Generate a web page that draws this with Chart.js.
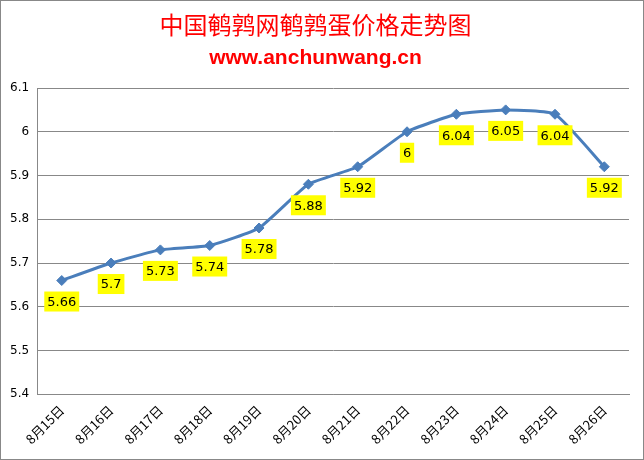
<!DOCTYPE html>
<html>
<head>
<meta charset="utf-8">
<script src="https://cdn.jsdelivr.net/npm/chart.js@4"></script>
<style>
  body { margin: 0; background: #fff; }
</style>
</head>
<body>
<canvas id="priceChart" width="644" height="460"></canvas>
<script>
const days = ["8月15日", "8月16日", "8月17日", "8月18日", "8月19日", "8月20日",
              "8月21日", "8月22日", "8月23日", "8月24日", "8月25日", "8月26日"];
const prices = [5.66, 5.7, 5.73, 5.74, 5.78, 5.88, 5.92, 6, 6.04, 6.05, 6.04, 5.92];
const yMin = 5.4, yMax = 6.1, yStep = 0.1;

// yellow value boxes under each point
const valueBoxes = {
    id: "valueBoxes",
    afterDatasetsDraw(chart) {
        const ctx = chart.ctx;
        const meta = chart.getDatasetMeta(0);
        ctx.save();
        ctx.font = "13px 'DejaVu Sans', sans-serif";
        ctx.textAlign = "center";
        ctx.textBaseline = "middle";
        meta.data.forEach((pt, i) => {
            const text = String(prices[i]);
            const w = ctx.measureText(text).width + 6;
            const h = 20;
            const cx = pt.x, cy = pt.y + 21;
            ctx.fillStyle = "#FFFF00";
            ctx.fillRect(cx - w / 2, cy - h / 2, w, h);
            ctx.fillStyle = "#000";
            ctx.fillText(text, cx, cy + 1);
        });
        ctx.restore();
    }
};

// thin grey frame round the picture
const frame = {
    id: "frame",
    afterDraw(chart) {
        const ctx = chart.ctx;
        ctx.save();
        ctx.strokeStyle = "#888";
        ctx.lineWidth = 1;
        ctx.strokeRect(0.5, 0.5, chart.width - 1, chart.height - 1);
        ctx.restore();
    }
};

new Chart(document.getElementById("priceChart"), {
    type: "line",
    data: {
        labels: days,
        datasets: [{
            data: prices,
            borderColor: "#4A7EBB",
            backgroundColor: "#4A7EBB",
            borderWidth: 3,
            pointStyle: "rectRot",
            pointRadius: 5,
            pointBorderWidth: 1,
            tension: 0.15
        }]
    },
    options: {
        responsive: false,
        animation: false,
        layout: { padding: { left: 2, right: 15, top: 0, bottom: 5 } },
        plugins: {
            legend: { display: false },
            tooltip: { enabled: false },
            title: {
                display: true,
                text: "中国鹌鹑网鹌鹑蛋价格走势图",
                color: "#FF0000",
                font: { family: "'Noto Sans CJK SC'", size: 24, weight: "normal", lineHeight: 1.2 },
                padding: { top: 10, bottom: 7 }
            },
            subtitle: {
                display: true,
                text: "www.anchunwang.cn",
                color: "#FF0000",
                font: { family: "'Liberation Sans', Arial, sans-serif", size: 21, weight: "bold", lineHeight: 1.2 },
                padding: { top: 0, bottom: 17 }
            }
        },
        scales: {
            x: {
                offset: true,
                grid: { display: false, drawTicks: false },
                border: { color: "#888", width: 1 },
                ticks: {
                    color: "#000",
                    font: { family: "'Noto Sans CJK SC'", size: 13 },
                    minRotation: 45,
                    maxRotation: 45,
                    padding: 8
                }
            },
            y: {
                min: yMin,
                max: yMax,
                grid: { color: "#888", lineWidth: 1, drawTicks: false },
                border: { color: "#888", width: 1 },
                ticks: {
                    stepSize: yStep,
                    color: "#000",
                    padding: 8,
                    font: { family: "'DejaVu Sans', sans-serif", size: 12 },
                    callback: v => String(+v.toFixed(1))
                }
            }
        }
    },
    plugins: [valueBoxes, frame]
});
</script>
</body>
</html>
